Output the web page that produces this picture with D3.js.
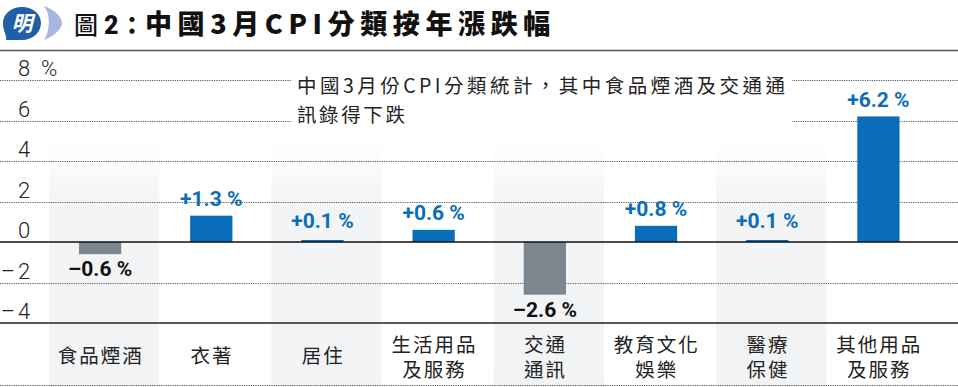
<!DOCTYPE html>
<html><head><meta charset="utf-8">
<script src="https://cdn.jsdelivr.net/npm/d3@7/dist/d3.min.js"></script>
<style>
html,body{margin:0;padding:0;background:#fff;}
svg{display:block;font-family:"Noto Sans CJK TC","Noto Sans",sans-serif;}
</style></head>
<body>
<svg id="chart" width="958" height="387"></svg>
<script>
const categories = [["食品煙酒"],["衣著"],["居住"],["生活用品","及服務"],["交通","通訊"],["教育文化","娛樂"],["醫療","保健"],["其他用品","及服務"]];
const values = [-0.6, 1.3, 0.1, 0.6, -2.6, 0.8, 0.1, 6.2];
const valueLabels = ["–0.6 %","+1.3 %","+0.1 %","+0.6 %","–2.6 %","+0.8 %","+0.1 %","+6.2 %"];
const yTicks = [8, 6, 4, 2, 0, -2, -4];
const yTickLabels = ["8 %","6","4","2","0","–2","–4"];
const titleText = "中國3月CPI分類按年漲跌幅";
const noteLines = ["中國3月份CPI分類統計，其中食品煙酒及交通通","訊錄得下跌"];

const svg = d3.select("#chart");
const W = 958;
const BLUE = "#0a6dba", GREY = "#7b868e";

const x = d3.scaleBand().domain(d3.range(categories.length)).range([44.5, 934]).paddingInner(0).paddingOuter(0);
const xBar = d3.scaleBand().domain(d3.range(categories.length)).range([44.5, 934]).paddingInner(0.62).paddingOuter(0.31);
const y = d3.scaleLinear().domain([-4, 8]).range([323, 80]);

const defs = svg.append("defs");
const g = defs.append("linearGradient").attr("id","shade").attr("x1",0).attr("y1",0).attr("x2",0).attr("y2",1);
g.append("stop").attr("offset","0%").attr("stop-color","#ffffff");
g.append("stop").attr("offset","25%").attr("stop-color","#f3f4f6");
g.append("stop").attr("offset","100%").attr("stop-color","#f2f3f5");

// shaded columns (alternate)
svg.append("g").selectAll("rect").data(d3.range(categories.length).filter(i => i % 2 === 0)).join("rect")
  .attr("x", i => x(i) + 4.5).attr("width", x.bandwidth() - 1)
  .attr("y", 140).attr("height", 247)
  .attr("fill", "url(#shade)");

// top border line
svg.append("line").attr("x1",0).attr("x2",W).attr("y1",50.5).attr("y2",50.5).attr("stroke","#555").attr("stroke-width",1.5);

// gridlines
const grid = svg.append("g");
yTicks.forEach(t => {
  if (t === 0 || t === -4) return;
  grid.append("line").attr("x1",0).attr("x2",W).attr("y1",Math.round(y(t))+0.5).attr("y2",Math.round(y(t))+0.5)
    .attr("stroke","#666").attr("stroke-width",1).attr("stroke-dasharray","1.3,1");
});
grid.append("line").attr("x1",0).attr("x2",W).attr("y1",385.5).attr("y2",385.5)
  .attr("stroke","#666").attr("stroke-width",1).attr("stroke-dasharray","1.3,1");

// annotation white box and text
svg.append("rect").attr("x",291).attr("y",68).attr("width",501).attr("height",62).attr("fill","#fff");
svg.append("text").attr("x",297).attr("y",93).attr("font-size",19.5).attr("fill","#222")
  .attr("textLength",488).attr("lengthAdjust","spacing").text(noteLines[0]);
svg.append("text").attr("x",297).attr("y",122).attr("font-size",19.5).attr("fill","#222")
  .attr("letter-spacing","2.6px").text(noteLines[1]);

// y tick labels: digits aligned at x=18, minus sign hanging to the left
const tickG = svg.append("g").attr("font-size", 22).attr("fill","#222")
  .attr("font-family","Roboto, 'Liberation Sans', sans-serif").attr("font-weight",300);
yTicks.forEach((d,i) => {
  const lab = yTickLabels[i];
  const neg = lab.startsWith("–");
  const body = neg ? lab.slice(1) : lab;
  tickG.append("text").attr("x", 18).attr("y", y(d) - 4).attr("xml:space","preserve").text(body.replace(" ", "  "));
  if (neg) tickG.append("text").attr("x", 15).attr("y", y(d) - 4).attr("text-anchor","end").text("–");
});

// bars
svg.append("g").selectAll("rect").data(values).join("rect")
  .attr("x", (d,i) => xBar(i)).attr("width", xBar.bandwidth())
  .attr("y", d => d >= 0 ? y(d) : y(0))
  .attr("height", d => Math.max(2, Math.abs(y(d) - y(0))))
  .attr("fill", d => d >= 0 ? BLUE : GREY);

// zero line & -4 line
svg.append("line").attr("x1",0).attr("x2",W).attr("y1",y(0)).attr("y2",y(0)).attr("stroke","#111").attr("stroke-width",1.5);
svg.append("line").attr("x1",0).attr("x2",W).attr("y1",y(-4)).attr("y2",y(-4)).attr("stroke","#222").attr("stroke-width",1.5);

// value labels
svg.append("g").selectAll("text").data(values).join("text")
  .attr("x", (d,i) => xBar(i) + xBar.bandwidth()/2)
  .attr("y", d => d >= 0 ? Math.min(y(d), y(0) - 5) - 9.5 : y(d) + 22)
  .attr("text-anchor","middle").attr("font-size",21).attr("font-weight",700)
  .attr("font-family","Roboto, 'Liberation Sans', sans-serif")
  .attr("fill", d => d >= 0 ? BLUE : "#111")
  .text((d,i) => valueLabels[i]);

// category labels (one text per line)
const catG = svg.append("g");
categories.forEach((lines,i) => {
  const cx = x(i) + x.bandwidth()/2 + 0.75;
  lines.forEach((l,j) => {
    const yy = lines.length === 1 ? 363 : 352 + j*24.5;
    catG.append("text").attr("x", cx).attr("y", yy).attr("text-anchor","middle")
      .attr("font-size",19.5).attr("fill","#222").attr("letter-spacing","2px").text(l);
  });
});

// logo
const logo = svg.append("g");
logo.append("path").attr("d","M44,6 C56,10 62,18 62,23 C62,28 56,35 44,40 C50,32 51,14 44,6 Z").attr("fill","#a9b6e0");
logo.append("path").attr("d","M22,7 C33,7 41,14 41,23 C41,32 33,40 22,40 L6,40 C7,37 5,34 4,30 C3,27 3,25 3,23 C3,14 11,7 22,7 Z").attr("fill","#1f5fa8");
logo.append("text").attr("x",22).attr("y",31).attr("text-anchor","middle").attr("font-size",21).attr("font-weight",700)
  .attr("fill","#fff").attr("font-style","italic").text("明");

// title
svg.append("text").attr("x",74).attr("y",34).attr("font-size",24).attr("font-weight",500).attr("fill","#111").text("圖");
svg.append("text").attr("x",104).attr("y",34).attr("font-size",25).attr("font-weight",900).attr("fill","#111")
  .attr("font-family","Roboto, 'Liberation Sans', sans-serif").text("2");
svg.append("text").attr("x",120).attr("y",34).attr("font-size",24).attr("font-weight",900).attr("fill","#111").text("：");
svg.append("text").attr("x",145).attr("y",34).attr("font-size",27).attr("font-weight",900).attr("fill","#111")
  .attr("letter-spacing","5.6px").text(titleText);
</script>
</body></html>
